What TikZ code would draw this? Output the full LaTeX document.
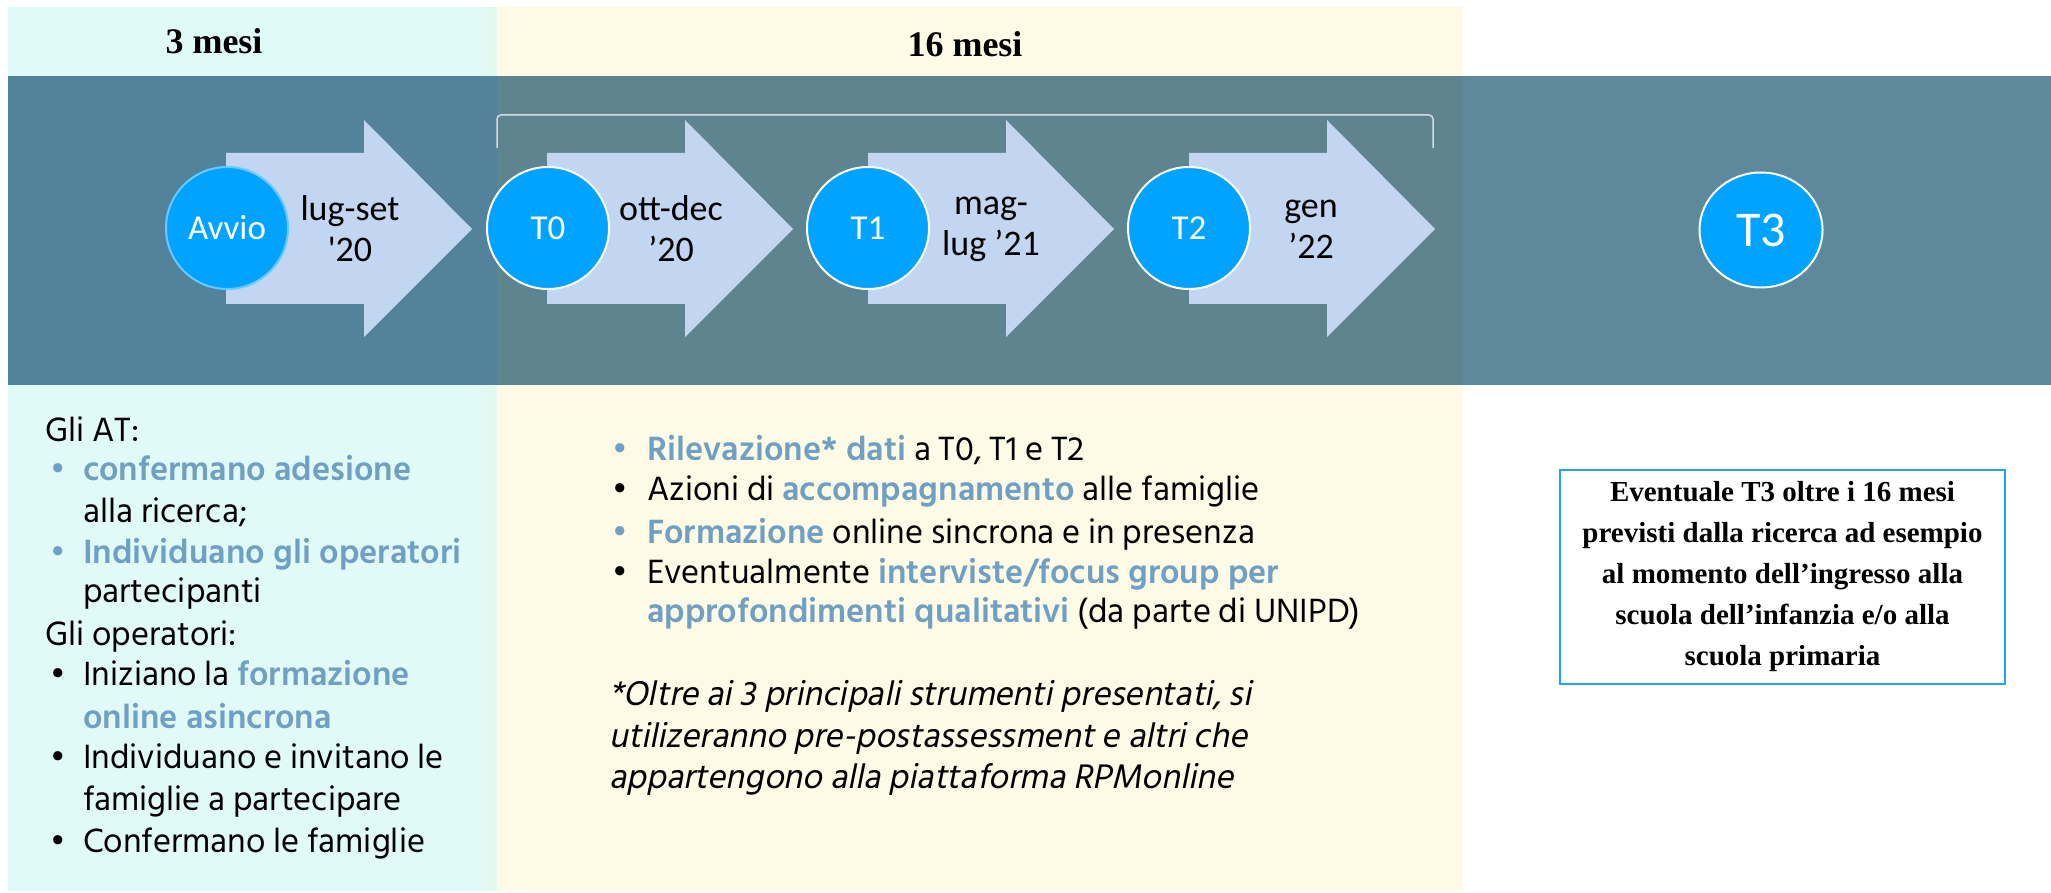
\documentclass[tikz,border=0pt]{standalone}
\usepackage{fontspec}
\setmainfont{Liberation Serif}
\newfontfamily\calfont{Carlito}
\newfontfamily\hindfont{Hind Siliguri}[ItalicFont={Hind Siliguri},ItalicFeatures={FakeSlant=0.2}]
\usetikzlibrary{shapes.geometric}
\definecolor{cyanbg}{HTML}{E0FAF7}
\definecolor{yellowbg}{HTML}{FDFBE5}
\definecolor{seambg}{HTML}{E1F9EE}
\definecolor{bandL}{HTML}{53839A}
\definecolor{bandM}{HTML}{5E8490}
\definecolor{bandR}{HTML}{5E889B}
\definecolor{arrowfill}{HTML}{C2D6F2}
\definecolor{circfill}{HTML}{00A3FF}
\definecolor{hl}{HTML}{6F9FC2}
\definecolor{boxblue}{HTML}{1FA5F2}
\definecolor{bracketcol}{HTML}{D3DCE0}
\newcommand{\phasearrow}[1]{%
  \fill[arrowfill] ({#1},153) -- ({#1+138},153) -- ({#1+138},120) -- ({#1+246},229)
    -- ({#1+138},337) -- ({#1+138},304) -- ({#1},304) -- cycle;}
\newcommand{\hlb}[1]{{\bfseries\color{hl}#1}}
\begin{document}
\begin{tikzpicture}[x=1pt,y=-1pt,
  milestone/.style={circle, fill=circfill, draw=white, line width=2pt,
    minimum size=122pt, inner sep=0pt, text=white,
    font=\calfont\fontsize{35}{40}\selectfont},
  datelbl/.style={align=center, inner sep=0pt, text=black,
    font=\calfont\fontsize{36}{41}\selectfont},
  header/.style={anchor=base, inner sep=0pt, font=\bfseries\fontsize{36}{40}\selectfont},
  bodytxt/.style={anchor=base west, inner sep=0pt, font=\hindfont\fontsize{34.5}{41}\selectfont},
  hlbul/.style={bodytxt, text=hl},
  notetxt/.style={bodytxt, font=\hindfont\itshape\fontsize{35}{41}\selectfont},
  notebox/.style={draw=boxblue, line width=2pt, fill=white, minimum width=445pt,
    minimum height=214pt, align=center, inner sep=0pt,
    font=\bfseries\fontsize{29}{41}\selectfont}
  ]
\useasboundingbox (0,0) rectangle (2051,893);
\fill[white] (0,0) rectangle (2051,893);
% background panels
\fill[cyanbg] (8,7) rectangle (497,891);
\fill[yellowbg] (497,7) rectangle (1463,891);
\fill[seambg] (484,7) rectangle (497,891);
% dark band
\fill[bandL] (8,76) rectangle (497,385);
\fill[bandM] (497,76) rectangle (1463,385);
\fill[bandR] (1463,76) rectangle (2051,385);
% headers
\node[header] (h3) at (214,54) {3 mesi};
\node[header] (h16) at (965,57) {16 mesi};
% bracket
\draw[bracketcol, line width=1.5pt, rounded corners=4pt] (497,148) -- (497,115) -- (1433,115) -- (1433,148);
% phase arrows
\phasearrow{226}
\phasearrow{547}
\phasearrow{868}
\phasearrow{1189}
% milestones
\node[milestone, draw=circfill!60!white] (avvio) at (227,228) {Avvio};
\node[milestone] (t0) at (548,228) {T0};
\node[milestone] (t1) at (868,228) {T1};
\node[milestone] (t2) at (1189,228) {T2};
\node[milestone, ellipse, minimum width=123pt, minimum height=115pt,
  font=\calfont\fontsize{50}{56}\selectfont] (t3) at (1761,230) {T3};
% date labels
\node[datelbl] (d0) at (350,229) {lug-set\\\textquotesingle20};
\node[datelbl] (d1) at (671,229) {ott-dec\\’20};
\node[datelbl] (d2) at (991,229) {mag-\\lug ’21};
\node[datelbl] (d3) at (1311,229) {gen\\’22};
% left column
\node[bodytxt] (a1) at (45,441) {Gli AT:};
\node[hlbul] (b1) at (50,480) {•};
\node[bodytxt] (a2) at (83,480) {\hlb{confermano adesione}};
\node[bodytxt] (a3) at (83,522) {alla ricerca;};
\node[hlbul] (b2) at (50,563) {•};
\node[bodytxt] (a4) at (83,563) {\hlb{Individuano gli operatori}};
\node[bodytxt] (a5) at (83,602) {partecipanti};
\node[bodytxt] (a6) at (45,645) {Gli operatori:};
\node[bodytxt] (b3) at (50,685) {•};
\node[bodytxt] (a7) at (83,685) {Iniziano la \hlb{formazione}};
\node[bodytxt] (a8) at (83,728) {\hlb{online asincrona}};
\node[bodytxt] (b4) at (50,768) {•};
\node[bodytxt] (a9) at (83,768) {Individuano e invitano le};
\node[bodytxt] (a10) at (83,810) {famiglie a partecipare};
\node[bodytxt] (b5) at (50,852) {•};
\node[bodytxt] (a11) at (83,852) {Confermano le famiglie};
% middle column
\node[hlbul] (c1) at (612,460) {•};
\node[bodytxt] (m1) at (647,460) {\hlb{Rilevazione* dati} a T0, T1 e T2};
\node[bodytxt] (c2) at (612,500) {•};
\node[bodytxt] (m2) at (647,500) {Azioni di \hlb{accompagnamento} alle famiglie};
\node[hlbul] (c3) at (612,543) {•};
\node[bodytxt] (m3) at (647,543) {\hlb{Formazione} online sincrona e in presenza};
\node[bodytxt] (c4) at (612,583) {•};
\node[bodytxt] (m4) at (647,583) {Eventualmente \hlb{interviste/focus group per}};
\node[bodytxt] (m5) at (647,622) {\hlb{approfondimenti qualitativi} (da parte di UNIPD)};
\node[notetxt] (n1) at (609,705) {*Oltre ai 3 principali strumenti presentati, si};
\node[notetxt] (n2) at (609,747) {utilizeranno pre-postassessment e altri che};
\node[notetxt] (n3) at (609,788) {appartengono alla piattaforma RPMonline};
% right box
\node[notebox] (box) at (1782.5,577) {Eventuale T3 oltre i 16 mesi\\previsti dalla ricerca ad esempio\\al momento dell’ingresso alla\\scuola dell’infanzia e/o alla\\scuola primaria};
\end{tikzpicture}
\end{document}
